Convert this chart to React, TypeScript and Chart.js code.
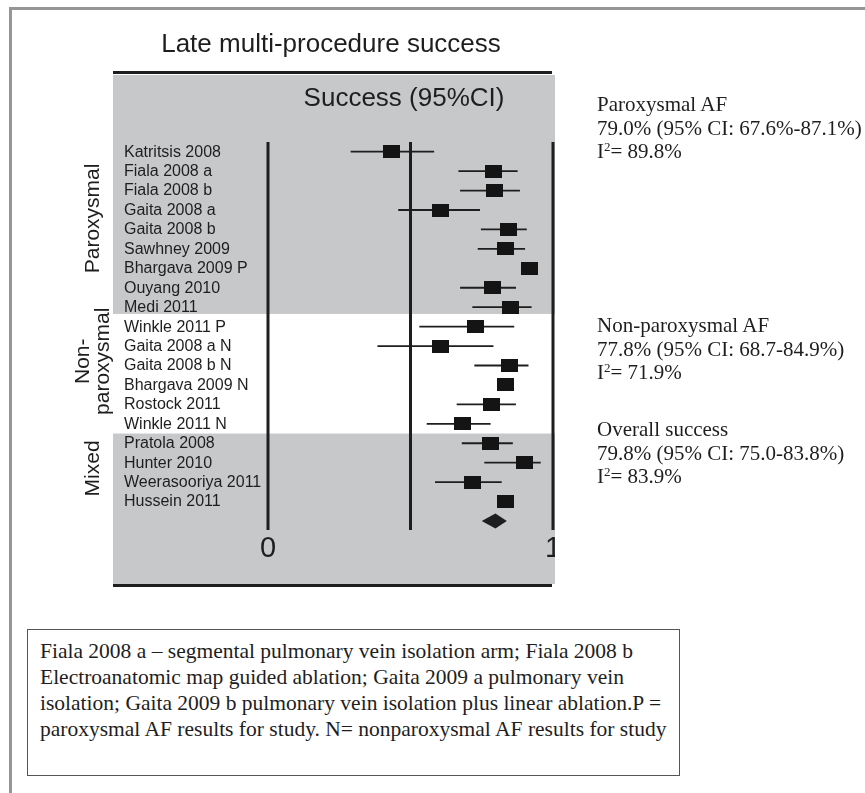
import React, { useEffect, useRef } from "react";
import { Chart, registerables } from "chart.js";

Chart.register(...registerables);

// ---------- DATA ----------
const studies = [
  "Katritsis 2008",
  "Fiala 2008 a",
  "Fiala 2008 b",
  "Gaita 2008 a",
  "Gaita 2008 b",
  "Sawhney 2009",
  "Bhargava 2009 P",
  "Ouyang 2010",
  "Medi 2011",
  "Winkle 2011 P",
  "Gaita 2008 a N",
  "Gaita 2008 b N",
  "Bhargava 2009 N",
  "Rostock 2011",
  "Winkle 2011 N",
  "Pratola 2008",
  "Hunter 2010",
  "Weerasooriya 2011",
  "Hussein 2011",
];
const estimates = [
  0.432, 0.791, 0.796, 0.607, 0.843, 0.835, 0.919, 0.789, 0.852,
  0.727, 0.605, 0.846, 0.833, 0.784, 0.681,
  0.781, 0.9, 0.718, 0.833,
];
const lowerCI = [
  0.29, 0.668, 0.674, 0.457, 0.747, 0.736, 0.9, 0.674, 0.717,
  0.531, 0.384, 0.724, 0.812, 0.662, 0.557,
  0.68, 0.759, 0.586, 0.812,
];
const upperCI = [
  0.583, 0.876, 0.884, 0.744, 0.908, 0.902, 0.938, 0.87, 0.925,
  0.864, 0.791, 0.914, 0.853, 0.87, 0.781,
  0.859, 0.957, 0.82, 0.853,
];
const groupLabels = [["Paroxysmal"], ["Non-", "paroxysmal"], ["Mixed"]];
const groupSizes = [9, 6, 4];
const overallEstimate = 0.798;
const overallLower = 0.75;
const overallUpper = 0.838;
const referenceLines = [0, 0.5, 1];
const xTickValues = [0, 1];
const xTickLabels = ["0", "1"];
const titleText = "Late multi-procedure success";
const subtitleText = "Success (95%CI)";
const summaryTitles = ["Paroxysmal AF", "Non-paroxysmal AF", "Overall success"];
const summaryEstimates = [
  "79.0% (95% CI: 67.6%-87.1%)",
  "77.8% (95% CI: 68.7-84.9%)",
  "79.8% (95% CI: 75.0-83.8%)",
];
const summaryI2 = ["89.8%", "71.9%", "83.9%"];
const footnoteLines = [
  "Fiala 2008 a \u2013 segmental pulmonary vein isolation arm; Fiala 2008 b",
  "Electroanatomic map guided ablation; Gaita 2009 a pulmonary vein",
  "isolation; Gaita 2009 b pulmonary vein isolation plus linear ablation.P =",
  "paroxysmal AF results for study. N= nonparoxysmal AF results for study",
];

// ---------- LAYOUT / STYLE ----------
const INK = "#1e1e1e";
const PANEL_GRAY = "#c7c8ca";
const PANEL = { left: 113, right: 555, top: 75, bottom: 584 };
const GROUP_LABEL_SHIFT = [-11, -14, -4];
const SANS = "'Liberation Sans', Arial, Helvetica, sans-serif";
const SERIF = "'Liberation Serif', 'Times New Roman', serif";

const forestPlugin = {
  id: "forest",
  beforeDatasetsDraw(chart: any) {
    const { ctx } = chart;
    const x = chart.scales.x;
    const y = chart.scales.y;
    ctx.save();

    // gray panels (groups alternate gray / white)
    let start = 0;
    groupSizes.forEach((n, g) => {
      if (g % 2 === 0) {
        const top = g === 0 ? PANEL.top : y.getPixelForValue(start - 0.5);
        const bottom =
          g === groupSizes.length - 1 ? PANEL.bottom : y.getPixelForValue(start + n - 0.5) - 3;
        ctx.fillStyle = PANEL_GRAY;
        ctx.fillRect(PANEL.left, top, PANEL.right - PANEL.left, bottom - top);
      }
      start += n;
    });

    // black rules at top and bottom of panel
    ctx.fillStyle = INK;
    ctx.fillRect(PANEL.left, PANEL.top - 4, PANEL.right - 3 - PANEL.left, 3);
    ctx.fillRect(PANEL.left, PANEL.bottom, PANEL.right - 3 - PANEL.left, 3);

    // title and subtitle
    ctx.fillStyle = INK;
    ctx.textBaseline = "middle";
    ctx.textAlign = "center";
    ctx.font = `26px ${SANS}`;
    ctx.fillText(titleText, 331, 45);
    ctx.fillText(subtitleText, 404, 99);

    // reference vertical lines
    ctx.strokeStyle = INK;
    ctx.lineWidth = 3;
    referenceLines.forEach((v) => {
      const px = x.getPixelForValue(v);
      ctx.beginPath();
      ctx.moveTo(px, 142);
      ctx.lineTo(px, 530);
      ctx.stroke();
    });

    // study labels
    ctx.font = `16px ${SANS}`;
    ctx.textAlign = "left";
    studies.forEach((s, i) => {
      ctx.fillText(s, 124, y.getPixelForValue(i) + 0.5);
    });

    // rotated group labels
    ctx.font = `21px ${SANS}`;
    ctx.textAlign = "center";
    start = 0;
    groupSizes.forEach((n, g) => {
      const cy =
        (y.getPixelForValue(start) + y.getPixelForValue(start + n - 1)) / 2 + GROUP_LABEL_SHIFT[g];
      const lines = groupLabels[g];
      lines.forEach((line, k) => {
        const cx = 93 + (k - (lines.length - 1) / 2) * 20;
        ctx.save();
        ctx.translate(cx, cy);
        ctx.rotate(-Math.PI / 2);
        ctx.fillText(line, 0, 0);
        ctx.restore();
      });
      start += n;
    });

    // x tick labels (clipped to panel)
    ctx.save();
    ctx.beginPath();
    ctx.rect(PANEL.left, PANEL.top, PANEL.right - PANEL.left, PANEL.bottom - PANEL.top);
    ctx.clip();
    ctx.font = `29px ${SANS}`;
    ctx.textAlign = "center";
    xTickValues.forEach((v, i) => {
      ctx.fillText(xTickLabels[i], x.getPixelForValue(v), 549);
    });
    ctx.restore();

    // confidence interval lines
    ctx.strokeStyle = INK;
    ctx.lineWidth = 1.8;
    estimates.forEach((_, i) => {
      const py = y.getPixelForValue(i);
      ctx.beginPath();
      ctx.moveTo(x.getPixelForValue(lowerCI[i]), py);
      ctx.lineTo(x.getPixelForValue(upperCI[i]), py);
      ctx.stroke();
    });

    ctx.restore();
  },
  afterDatasetsDraw(chart: any) {
    const { ctx } = chart;
    const x = chart.scales.x;
    const y = chart.scales.y;
    const py = y.getPixelForValue(studies.length);
    ctx.save();
    ctx.fillStyle = INK;
    ctx.beginPath();
    ctx.moveTo(x.getPixelForValue(overallLower), py);
    ctx.lineTo(x.getPixelForValue(overallEstimate), py - 7.5);
    ctx.lineTo(x.getPixelForValue(overallUpper), py);
    ctx.lineTo(x.getPixelForValue(overallEstimate), py + 7.5);
    ctx.closePath();
    ctx.fill();
    ctx.restore();
  },
};

function ForestChart() {
  const ref = useRef<HTMLCanvasElement | null>(null);
  useEffect(() => {
    if (!ref.current) return;
    const box = document.createElement("canvas");
    box.width = 17;
    box.height = 13;
    const bctx = box.getContext("2d");
    if (bctx) {
      bctx.fillStyle = "#141414";
      bctx.fillRect(0, 0, 17, 13);
    }
    const chart = new Chart(ref.current, {
      type: "scatter",
      data: {
        datasets: [
          {
            data: estimates.map((v, i) => ({ x: v, y: i })),
            pointStyle: box as any,
            pointRadius: 9,
            backgroundColor: "#141414",
            borderColor: "#141414",
            clip: false as any,
          },
        ],
      },
      options: {
        responsive: false,
        maintainAspectRatio: false,
        animation: false,
        events: [],
        layout: { padding: { left: 268, right: 312, top: 151.7, bottom: 79 } },
        scales: {
          x: { type: "linear", min: 0, max: 1, display: false },
          y: { type: "linear", min: 0, max: studies.length, reverse: true, display: false },
        },
        plugins: {
          legend: { display: false },
          tooltip: { enabled: false },
          title: { display: false },
        },
      },
      plugins: [forestPlugin],
    });
    return () => chart.destroy();
  }, []);
  return (
    <canvas
      ref={ref}
      width={865}
      height={600}
      style={{ position: "absolute", left: 0, top: 0, width: 865, height: 600 }}
    />
  );
}

const summaryTops = [93, 314, 418];

export default function App() {
  return (
    <div
      style={{
        position: "absolute",
        left: 0,
        top: 0,
        width: 865,
        height: 793,
        background: "#fff",
        overflow: "hidden",
      }}
    >
      <div
        style={{
          position: "absolute",
          left: 9,
          top: 7,
          width: 900,
          height: 900,
          borderTop: "3px solid #969696",
          borderLeft: "3px solid #969696",
        }}
      />
      <ForestChart />
      {summaryTitles.map((t, i) => (
        <div
          key={t}
          style={{
            position: "absolute",
            left: 597,
            top: summaryTops[i],
            fontFamily: SERIF,
            fontSize: 21,
            lineHeight: "23.5px",
            color: INK,
            whiteSpace: "nowrap",
          }}
        >
          <div>{t}</div>
          <div>{summaryEstimates[i]}</div>
          <div>
            I<sup style={{ fontSize: 13, verticalAlign: "7px", lineHeight: 0 }}>2</sup>= {summaryI2[i]}
          </div>
        </div>
      ))}
      <div
        style={{
          position: "absolute",
          left: 27,
          top: 629,
          width: 653,
          height: 147,
          boxSizing: "border-box",
          border: "1px solid #555",
          padding: "8px 0 0 12px",
          fontFamily: SERIF,
          fontSize: 21.5,
          lineHeight: "26px",
          color: INK,
          whiteSpace: "nowrap",
        }}
      >
        {footnoteLines.map((l) => (
          <div key={l}>{l}</div>
        ))}
      </div>
    </div>
  );
}
